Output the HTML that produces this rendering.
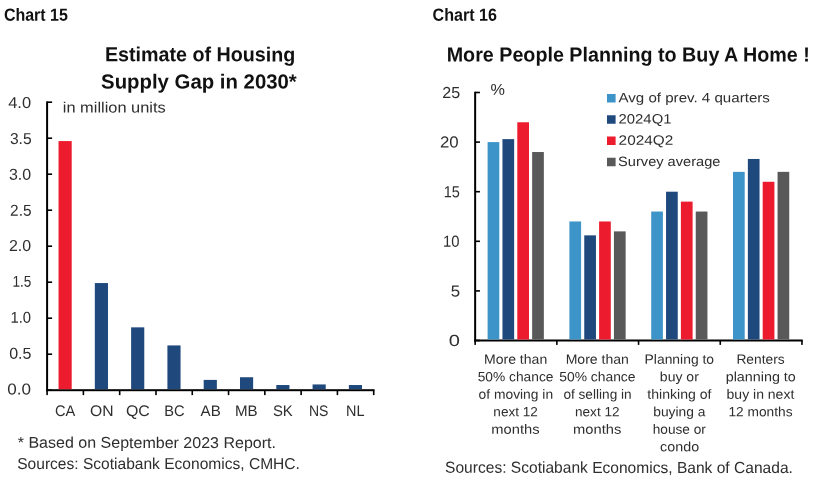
<!DOCTYPE html><html><head><meta charset="utf-8"><title>Charts</title>
<style>html,body{margin:0;padding:0;background:#fff}svg{display:block}text{font-family:"Liberation Sans",sans-serif;fill:#2e2e2e;text-rendering:geometricPrecision}.b{font-weight:bold;fill:#111}.t{}</style></head><body>
<svg width="828" height="483" viewBox="0 0 828 483">
<rect width="828" height="483" fill="#fff"/>
<rect x="47.1" y="389.40" width="5" height="1.6" fill="#000"/>
<rect x="47.1" y="353.40" width="5" height="1.6" fill="#000"/>
<rect x="47.1" y="317.40" width="5" height="1.6" fill="#000"/>
<rect x="47.1" y="281.40" width="5" height="1.6" fill="#000"/>
<rect x="47.1" y="245.40" width="5" height="1.6" fill="#000"/>
<rect x="47.1" y="209.40" width="5" height="1.6" fill="#000"/>
<rect x="47.1" y="173.40" width="5" height="1.6" fill="#000"/>
<rect x="47.1" y="137.40" width="5" height="1.6" fill="#000"/>
<rect x="47.1" y="101.40" width="5" height="1.6" fill="#000"/>
<rect x="46.1" y="101.40" width="2" height="289.80" fill="#000"/>
<rect x="46.1" y="389.20" width="328.41" height="2" fill="#000"/>
<rect x="46.30" y="390.20" width="1.6" height="4.9" fill="#000"/>
<rect x="82.59" y="390.20" width="1.6" height="4.9" fill="#000"/>
<rect x="118.88" y="390.20" width="1.6" height="4.9" fill="#000"/>
<rect x="155.17" y="390.20" width="1.6" height="4.9" fill="#000"/>
<rect x="191.46" y="390.20" width="1.6" height="4.9" fill="#000"/>
<rect x="227.75" y="390.20" width="1.6" height="4.9" fill="#000"/>
<rect x="264.04" y="390.20" width="1.6" height="4.9" fill="#000"/>
<rect x="300.33" y="390.20" width="1.6" height="4.9" fill="#000"/>
<rect x="336.62" y="390.20" width="1.6" height="4.9" fill="#000"/>
<rect x="372.91" y="390.20" width="1.6" height="4.9" fill="#000"/>
<rect x="58.55" y="141.08" width="13.15" height="248.12" fill="#ED1B2E"/>
<rect x="94.83" y="283.06" width="13.15" height="106.14" fill="#1F497D"/>
<rect x="131.12" y="327.34" width="13.15" height="61.86" fill="#1F497D"/>
<rect x="167.41" y="345.42" width="13.15" height="43.78" fill="#1F497D"/>
<rect x="203.70" y="379.90" width="13.15" height="9.30" fill="#1F497D"/>
<rect x="239.99" y="377.24" width="13.15" height="11.96" fill="#1F497D"/>
<rect x="276.29" y="385.02" width="13.15" height="4.18" fill="#1F497D"/>
<rect x="312.58" y="384.44" width="13.15" height="4.76" fill="#1F497D"/>
<rect x="348.87" y="385.02" width="13.15" height="4.18" fill="#1F497D"/>
<rect x="475.15" y="339.70" width="4.8" height="1.6" fill="#000"/>
<rect x="475.15" y="290.10" width="4.8" height="1.6" fill="#000"/>
<rect x="475.15" y="240.50" width="4.8" height="1.6" fill="#000"/>
<rect x="475.15" y="190.90" width="4.8" height="1.6" fill="#000"/>
<rect x="475.15" y="141.30" width="4.8" height="1.6" fill="#000"/>
<rect x="475.15" y="91.70" width="4.8" height="1.6" fill="#000"/>
<rect x="474.15" y="91.70" width="2" height="249.80" fill="#000"/>
<rect x="474.15" y="339.50" width="328.60" height="2" fill="#000"/>
<rect x="474.35" y="340.50" width="1.6" height="4.4" fill="#000"/>
<rect x="556.05" y="340.50" width="1.6" height="4.4" fill="#000"/>
<rect x="637.75" y="340.50" width="1.6" height="4.4" fill="#000"/>
<rect x="719.45" y="340.50" width="1.6" height="4.4" fill="#000"/>
<rect x="801.15" y="340.50" width="1.6" height="4.4" fill="#000"/>
<rect x="487.60" y="142.10" width="11.7" height="197.40" fill="#3D94C9"/>
<rect x="502.45" y="139.12" width="11.7" height="200.38" fill="#1F497D"/>
<rect x="517.30" y="122.26" width="11.7" height="217.24" fill="#ED1B2E"/>
<rect x="532.15" y="152.02" width="11.7" height="187.48" fill="#595959"/>
<rect x="569.40" y="221.46" width="11.7" height="118.04" fill="#3D94C9"/>
<rect x="584.25" y="235.35" width="11.7" height="104.15" fill="#1F497D"/>
<rect x="599.10" y="221.46" width="11.7" height="118.04" fill="#ED1B2E"/>
<rect x="613.95" y="231.38" width="11.7" height="108.12" fill="#595959"/>
<rect x="651.20" y="211.54" width="11.7" height="127.96" fill="#3D94C9"/>
<rect x="666.05" y="191.70" width="11.7" height="147.80" fill="#1F497D"/>
<rect x="680.90" y="201.62" width="11.7" height="137.88" fill="#ED1B2E"/>
<rect x="695.75" y="211.54" width="11.7" height="127.96" fill="#595959"/>
<rect x="733.00" y="171.86" width="11.7" height="167.64" fill="#3D94C9"/>
<rect x="747.85" y="158.96" width="11.7" height="180.54" fill="#1F497D"/>
<rect x="762.70" y="181.78" width="11.7" height="157.72" fill="#ED1B2E"/>
<rect x="777.55" y="171.86" width="11.7" height="167.64" fill="#595959"/>
<rect x="607" y="94.00" width="8.6" height="8.5" fill="#3D94C9"/>
<rect x="607" y="115.25" width="8.6" height="8.5" fill="#1F497D"/>
<rect x="607" y="136.50" width="8.6" height="8.5" fill="#ED1B2E"/>
<rect x="607" y="157.75" width="8.6" height="8.5" fill="#595959"/>
<text transform="matrix(1 0.00068 0 1 0 0)" x="3.88" y="20.68" font-size="17.6" class="b" textLength="64.06" lengthAdjust="spacingAndGlyphs">Chart 15</text>
<text transform="matrix(1 0.00068 0 1 0 0)" x="432.57" y="20.38" font-size="17.6" class="b" textLength="64.35" lengthAdjust="spacingAndGlyphs">Chart 16</text>
<text transform="matrix(1 0.00059 0 1 0 0)" x="104.90" y="61.23" font-size="20.3" class="b t" textLength="190.45" lengthAdjust="spacingAndGlyphs">Estimate of Housing</text>
<text transform="matrix(1 0.00059 0 1 0 0)" x="101.08" y="88.38" font-size="20.3" class="b t" textLength="195.71" lengthAdjust="spacingAndGlyphs">Supply Gap in 2030*</text>
<text transform="matrix(1 0.0008 0 1 0 0)" x="62.75" y="112.41" font-size="15.0" textLength="103.04" lengthAdjust="spacingAndGlyphs">in million units</text>
<text transform="matrix(1 0.00076 0 1 0 0)" x="7.27" y="394.59" font-size="15.8" textLength="23.80" lengthAdjust="spacingAndGlyphs">0.0</text>
<text transform="matrix(1 0.00076 0 1 0 0)" x="9.17" y="358.68" font-size="15.8" textLength="22.30" lengthAdjust="spacingAndGlyphs">0.5</text>
<text transform="matrix(1 0.00076 0 1 0 0)" x="10.45" y="322.68" font-size="15.8" textLength="20.64" lengthAdjust="spacingAndGlyphs">1.0</text>
<text transform="matrix(1 0.00076 0 1 0 0)" x="12.57" y="286.78" font-size="15.8" textLength="18.84" lengthAdjust="spacingAndGlyphs">1.5</text>
<text transform="matrix(1 0.00076 0 1 0 0)" x="8.98" y="251.08" font-size="15.8" textLength="22.18" lengthAdjust="spacingAndGlyphs">2.0</text>
<text transform="matrix(1 0.00076 0 1 0 0)" x="10.10" y="215.78" font-size="15.8" textLength="21.39" lengthAdjust="spacingAndGlyphs">2.5</text>
<text transform="matrix(1 0.00076 0 1 0 0)" x="8.98" y="179.78" font-size="15.8" textLength="22.18" lengthAdjust="spacingAndGlyphs">3.0</text>
<text transform="matrix(1 0.00076 0 1 0 0)" x="9.88" y="143.88" font-size="15.8" textLength="21.68" lengthAdjust="spacingAndGlyphs">3.5</text>
<text transform="matrix(1 0.00076 0 1 0 0)" x="8.20" y="107.89" font-size="15.8" textLength="22.91" lengthAdjust="spacingAndGlyphs">4.0</text>
<text transform="matrix(1 0.00078 0 1 0 0)" x="54.95" y="416.05" font-size="15.3" textLength="20.27" lengthAdjust="spacingAndGlyphs">CA</text>
<text transform="matrix(1 0.00078 0 1 0 0)" x="90.05" y="416.02" font-size="15.3" textLength="23.54" lengthAdjust="spacingAndGlyphs">ON</text>
<text transform="matrix(1 0.00078 0 1 0 0)" x="126.03" y="415.99" font-size="15.3" textLength="23.83" lengthAdjust="spacingAndGlyphs">QC</text>
<text transform="matrix(1 0.00078 0 1 0 0)" x="164.18" y="415.96" font-size="15.3" textLength="20.29" lengthAdjust="spacingAndGlyphs">BC</text>
<text transform="matrix(1 0.00078 0 1 0 0)" x="200.60" y="415.94" font-size="15.3" textLength="20.15" lengthAdjust="spacingAndGlyphs">AB</text>
<text transform="matrix(1 0.00078 0 1 0 0)" x="235.03" y="415.91" font-size="15.3" textLength="22.68" lengthAdjust="spacingAndGlyphs">MB</text>
<text transform="matrix(1 0.00078 0 1 0 0)" x="272.88" y="415.88" font-size="15.3" textLength="19.89" lengthAdjust="spacingAndGlyphs">SK</text>
<text transform="matrix(1 0.00078 0 1 0 0)" x="309.02" y="415.85" font-size="15.3" textLength="19.44" lengthAdjust="spacingAndGlyphs">NS</text>
<text transform="matrix(1 0.00078 0 1 0 0)" x="346.10" y="415.82" font-size="15.3" textLength="18.49" lengthAdjust="spacingAndGlyphs">NL</text>
<text transform="matrix(1 0.00077 0 1 0 0)" x="17.75" y="447.79" font-size="15.6" textLength="258.18" lengthAdjust="spacingAndGlyphs">* Based on September 2023 Report.</text>
<text transform="matrix(1 0.00076 0 1 0 0)" x="17.25" y="468.88" font-size="15.8" textLength="282.63" lengthAdjust="spacingAndGlyphs">Sources: Scotiabank Economics, CMHC.</text>
<text transform="matrix(1 0.00059 0 1 0 0)" x="446.70" y="61.13" font-size="20.3" class="b t" textLength="363.19" lengthAdjust="spacingAndGlyphs">More People Planning to Buy A Home !</text>
<text transform="matrix(1 0.00075 0 1 0 0)" x="448.68" y="345.66" font-size="16.0" textLength="11.17" lengthAdjust="spacingAndGlyphs">0</text>
<text transform="matrix(1 0.00075 0 1 0 0)" x="450.70" y="296.06" font-size="16.0" textLength="9.38" lengthAdjust="spacingAndGlyphs">5</text>
<text transform="matrix(1 0.00075 0 1 0 0)" x="443.00" y="246.46" font-size="16.0" textLength="16.50" lengthAdjust="spacingAndGlyphs">10</text>
<text transform="matrix(1 0.00075 0 1 0 0)" x="443.75" y="196.86" font-size="16.0" textLength="16.15" lengthAdjust="spacingAndGlyphs">15</text>
<text transform="matrix(1 0.00075 0 1 0 0)" x="439.95" y="147.26" font-size="16.0" textLength="18.74" lengthAdjust="spacingAndGlyphs">20</text>
<text transform="matrix(1 0.00075 0 1 0 0)" x="442.30" y="97.66" font-size="16.0" textLength="17.89" lengthAdjust="spacingAndGlyphs">25</text>
<text transform="matrix(1 0.00077 0 1 0 0)" x="490.50" y="94.32" font-size="15.5" textLength="14.45" lengthAdjust="spacingAndGlyphs">%</text>
<text transform="matrix(1 0.00089 0 1 0 0)" x="618.47" y="101.68" font-size="13.5" textLength="151.42" lengthAdjust="spacingAndGlyphs">Avg of prev. 4 quarters</text>
<text transform="matrix(1 0.00089 0 1 0 0)" x="618.55" y="122.98" font-size="13.5" textLength="52.96" lengthAdjust="spacingAndGlyphs">2024Q1</text>
<text transform="matrix(1 0.00089 0 1 0 0)" x="618.60" y="144.23" font-size="13.5" textLength="54.61" lengthAdjust="spacingAndGlyphs">2024Q2</text>
<text transform="matrix(1 0.00089 0 1 0 0)" x="618.10" y="165.45" font-size="13.5" textLength="102.31" lengthAdjust="spacingAndGlyphs">Survey average</text>
<text transform="matrix(1 0.0009 0 1 0 0)" x="483.95" y="363.34" font-size="13.3" textLength="63.28" lengthAdjust="spacingAndGlyphs">More than</text>
<text transform="matrix(1 0.0009 0 1 0 0)" x="477.70" y="380.82" font-size="13.3" textLength="75.73" lengthAdjust="spacingAndGlyphs">50% chance</text>
<text transform="matrix(1 0.0009 0 1 0 0)" x="478.58" y="398.30" font-size="13.3" textLength="74.52" lengthAdjust="spacingAndGlyphs">of moving in</text>
<text transform="matrix(1 0.0009 0 1 0 0)" x="493.33" y="415.78" font-size="13.3" textLength="44.53" lengthAdjust="spacingAndGlyphs">next 12</text>
<text transform="matrix(1 0.0009 0 1 0 0)" x="491.33" y="433.26" font-size="13.3" textLength="48.26" lengthAdjust="spacingAndGlyphs">months</text>
<text transform="matrix(1 0.0009 0 1 0 0)" x="565.65" y="363.26" font-size="13.3" textLength="63.28" lengthAdjust="spacingAndGlyphs">More than</text>
<text transform="matrix(1 0.0009 0 1 0 0)" x="559.28" y="380.74" font-size="13.3" textLength="76.23" lengthAdjust="spacingAndGlyphs">50% chance</text>
<text transform="matrix(1 0.0009 0 1 0 0)" x="563.40" y="398.22" font-size="13.3" textLength="68.23" lengthAdjust="spacingAndGlyphs">of selling in</text>
<text transform="matrix(1 0.0009 0 1 0 0)" x="575.03" y="415.70" font-size="13.3" textLength="44.53" lengthAdjust="spacingAndGlyphs">next 12</text>
<text transform="matrix(1 0.0009 0 1 0 0)" x="573.03" y="433.18" font-size="13.3" textLength="48.26" lengthAdjust="spacingAndGlyphs">months</text>
<text transform="matrix(1 0.0009 0 1 0 0)" x="644.60" y="363.19" font-size="13.3" textLength="69.46" lengthAdjust="spacingAndGlyphs">Planning to</text>
<text transform="matrix(1 0.0009 0 1 0 0)" x="659.85" y="380.67" font-size="13.3" textLength="39.00" lengthAdjust="spacingAndGlyphs">buy or</text>
<text transform="matrix(1 0.0009 0 1 0 0)" x="647.35" y="398.15" font-size="13.3" textLength="64.10" lengthAdjust="spacingAndGlyphs">thinking of</text>
<text transform="matrix(1 0.0009 0 1 0 0)" x="653.23" y="415.63" font-size="13.3" textLength="52.13" lengthAdjust="spacingAndGlyphs">buying a</text>
<text transform="matrix(1 0.0009 0 1 0 0)" x="652.73" y="433.11" font-size="13.3" textLength="53.15" lengthAdjust="spacingAndGlyphs">house or</text>
<text transform="matrix(1 0.0009 0 1 0 0)" x="660.10" y="450.59" font-size="13.3" textLength="39.00" lengthAdjust="spacingAndGlyphs">condo</text>
<text transform="matrix(1 0.0009 0 1 0 0)" x="736.42" y="363.12" font-size="13.3" textLength="48.26" lengthAdjust="spacingAndGlyphs">Renters</text>
<text transform="matrix(1 0.0009 0 1 0 0)" x="725.67" y="380.60" font-size="13.3" textLength="70.17" lengthAdjust="spacingAndGlyphs">planning to</text>
<text transform="matrix(1 0.0009 0 1 0 0)" x="726.55" y="398.08" font-size="13.3" textLength="67.77" lengthAdjust="spacingAndGlyphs">buy in next</text>
<text transform="matrix(1 0.0009 0 1 0 0)" x="728.42" y="415.56" font-size="13.3" textLength="64.11" lengthAdjust="spacingAndGlyphs">12 months</text>
<text transform="matrix(1 0.00075 0 1 0 0)" x="445.08" y="472.44" font-size="16.0" textLength="347.78" lengthAdjust="spacingAndGlyphs">Sources: Scotiabank Economics, Bank of Canada.</text>
</svg></body></html>
